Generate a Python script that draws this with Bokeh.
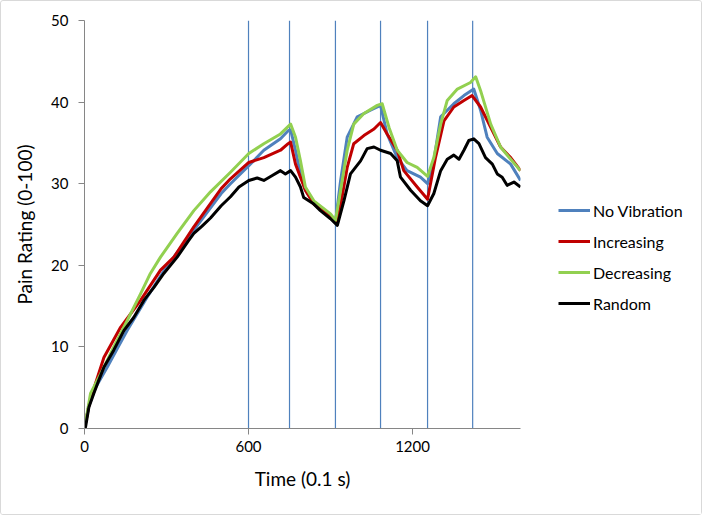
from bokeh.plotting import figure
from bokeh.layouts import row
from bokeh.models import FixedTicker, Legend, LegendItem, Range1d
from bokeh.embed import file_html
from bokeh.resources import INLINE

# ---- data ----
nv_time = [0, 16, 40, 83, 120, 156, 229, 300, 400, 500, 534, 601, 656, 717, 745, 754,
           772, 790, 808, 839, 870, 900, 918, 937, 961, 998, 1046, 1083, 1107, 1144,
           1180, 1229, 1255, 1278, 1303, 1351, 1388, 1424, 1449, 1473, 1510, 1559, 1595]
no_vibration = [0, 2.8, 5.0, 7.5, 9.8, 12.0, 16.1, 19.8, 24.3, 28.8, 30.0, 32.2, 34.1, 35.5, 36.5, 36.6,
                34.1, 31.2, 29.2, 27.6, 26.8, 26.0, 25.3, 30.4, 35.7, 38.2, 39.0, 39.6, 36.1, 33.2,
                31.6, 30.8, 30.0, 32.8, 38.2, 39.8, 40.8, 41.6, 39.0, 35.7, 33.7, 32.4, 30.4]

inc_time = [0, 16, 40, 71, 132, 205, 278, 327, 400, 500, 534, 601, 656, 717, 745, 754,
            772, 790, 808, 839, 900, 925, 961, 985, 1022, 1059, 1083, 1107, 1144, 1168,
            1217, 1255, 1284, 1315, 1351, 1388, 1418, 1449, 1486, 1522, 1559, 1595]
increasing = [0, 2.8, 5.5, 8.7, 12.4, 15.7, 19.4, 21.0, 24.7, 29.4, 30.6, 32.6, 33.2, 34.1, 34.9, 35.1,
              32.4, 30.8, 29.2, 27.5, 25.9, 25.1, 32.0, 34.9, 35.9, 36.7, 37.5, 36.1, 34.1, 31.6,
              29.6, 28.1, 33.2, 37.7, 39.4, 40.2, 40.8, 39.4, 36.9, 34.5, 33.2, 31.6]

dec_time = [0, 22, 59, 107, 156, 205, 241, 278, 339, 400, 461, 534, 601, 656, 717, 754,
            772, 790, 808, 839, 900, 918, 937, 961, 985, 1022, 1071, 1089, 1114, 1144,
            1180, 1217, 1255, 1278, 1303, 1327, 1364, 1412, 1431, 1449, 1486, 1522, 1559, 1595]
decreasing = [0, 4.3, 6.7, 10.0, 13.2, 16.5, 19.0, 21.0, 23.9, 26.7, 29.0, 31.4, 33.7, 34.9, 36.1, 37.3,
              35.7, 32.8, 29.6, 27.9, 26.3, 25.5, 29.2, 34.1, 37.3, 38.6, 39.6, 39.8, 36.9, 34.1,
              32.6, 32.0, 30.9, 33.2, 37.3, 40.2, 41.6, 42.4, 43.1, 41.4, 37.3, 34.5, 33.0, 31.6]

rnd_time = [0, 4, 16, 34, 52, 71, 107, 144, 180, 217, 254, 290, 339, 380, 400, 430, 461,
            500, 534, 565, 601, 632, 656, 687, 717, 735, 754, 772, 790, 802, 839, 863, 900,
            925, 949, 973, 1010, 1034, 1059, 1083, 1120, 1144, 1156, 1193, 1229, 1255, 1278,
            1303, 1327, 1351, 1370, 1388, 1406, 1424, 1443, 1467, 1492, 1510, 1528, 1546, 1571, 1595]
random_ = [0, 0.2, 2.6, 4.3, 5.9, 7.5, 9.6, 12.0, 13.6, 15.7, 17.3, 19.0, 21.0, 23.0, 23.9, 24.8, 25.8,
           27.3, 28.4, 29.6, 30.4, 30.7, 30.4, 31.0, 31.6, 31.2, 31.6, 30.8, 29.6, 28.3, 27.5, 26.7, 25.7,
           24.9, 27.9, 31.2, 32.8, 34.3, 34.5, 34.1, 33.7, 32.8, 30.8, 29.2, 27.9, 27.3, 28.8,
           31.6, 33.0, 33.5, 33.0, 34.1, 35.3, 35.5, 34.9, 33.2, 32.4, 31.2, 30.8, 29.8, 30.2, 29.6]

vibration_marks = [600, 750, 918, 1083, 1255, 1420]

series_names = ["No Vibration", "Increasing", "Decreasing", "Random"]
series_colors = ["#4F81BD", "#C00000", "#92D050", "#000000"]

x_ticks = [0, 600, 1200]
y_ticks = [0, 10, 20, 30, 40, 50]

FONT = "Lato"
AXIS_GREY = "#868686"

p = figure(width=540, height=513, output_backend="svg", toolbar_location=None,
           x_range=Range1d(0, 1595), y_range=Range1d(0, 50),
           min_border_left=83, min_border_right=21, min_border_top=19,
           min_border_bottom=86)
p.outline_line_color = None
p.grid.visible = False
p.background_fill_color = "white"
p.border_fill_color = "white"

# vibration marker lines
p.segment(x0=vibration_marks, x1=vibration_marks, y0=[0] * len(vibration_marks),
          y1=[50] * len(vibration_marks), line_color="#4F81BD", line_width=1.2)

series = [(nv_time, no_vibration), (inc_time, increasing), (dec_time, decreasing), (rnd_time, random_)]
for (t, vals), col in zip(series, series_colors):
    p.line(t, vals, line_color=col, line_width=3, line_join="round")

for ax in (p.xaxis[0], p.yaxis[0]):
    ax.axis_line_color = AXIS_GREY
    ax.major_tick_line_color = AXIS_GREY
    ax.minor_tick_line_color = None
    ax.major_tick_in = 0
    ax.major_tick_out = 6
    ax.major_label_text_font = FONT
    ax.major_label_text_font_size = "15px"
    ax.major_label_text_color = "#000000"
    ax.axis_label_text_font = FONT
    ax.axis_label_text_font_size = "19px"
    ax.axis_label_text_font_style = "normal"
    ax.axis_label_text_color = "#000000"

p.xaxis.ticker = FixedTicker(ticks=x_ticks)
p.yaxis.ticker = FixedTicker(ticks=y_ticks)
p.xaxis.axis_label = "Time (0.1 s)"
p.yaxis.axis_label = "Pain Rating (0-100)"
p.xaxis.major_label_standoff = 6
p.yaxis.major_label_standoff = 10
p.xaxis.axis_label_standoff = 12
p.yaxis.axis_label_standoff = 12

# legend panel (separate figure to the right of the plot)
lg = figure(width=160, height=513, output_backend="svg", toolbar_location=None,
            x_axis_location=None, y_axis_location=None,
            x_range=Range1d(0, 1), y_range=Range1d(0, 1),
            min_border_left=0, min_border_right=0, min_border_top=0, min_border_bottom=0)
lg.outline_line_color = None
lg.grid.visible = False
lg.background_fill_color = "white"
lg.border_fill_color = "white"
items = []
for name, col in zip(series_names, series_colors):
    r = lg.line([-2, -1], [-2, -1], line_color=col, line_width=3)
    items.append(LegendItem(label=name, renderers=[r]))
legend = Legend(items=items, location=(17, 115), orientation="vertical",
                label_text_font=FONT, label_text_font_size="16px",
                label_text_color="#000000", glyph_width=32, glyph_height=20,
                label_standoff=3, spacing=11, padding=0, margin=0,
                border_line_color=None, background_fill_alpha=0)
lg.add_layout(legend, "center")

layout = row(p, lg)
layout.styles = {"border": "1px solid #D9D9D9", "border-radius": "3px"}

open("out.html", "w").write(file_html(layout, INLINE))
